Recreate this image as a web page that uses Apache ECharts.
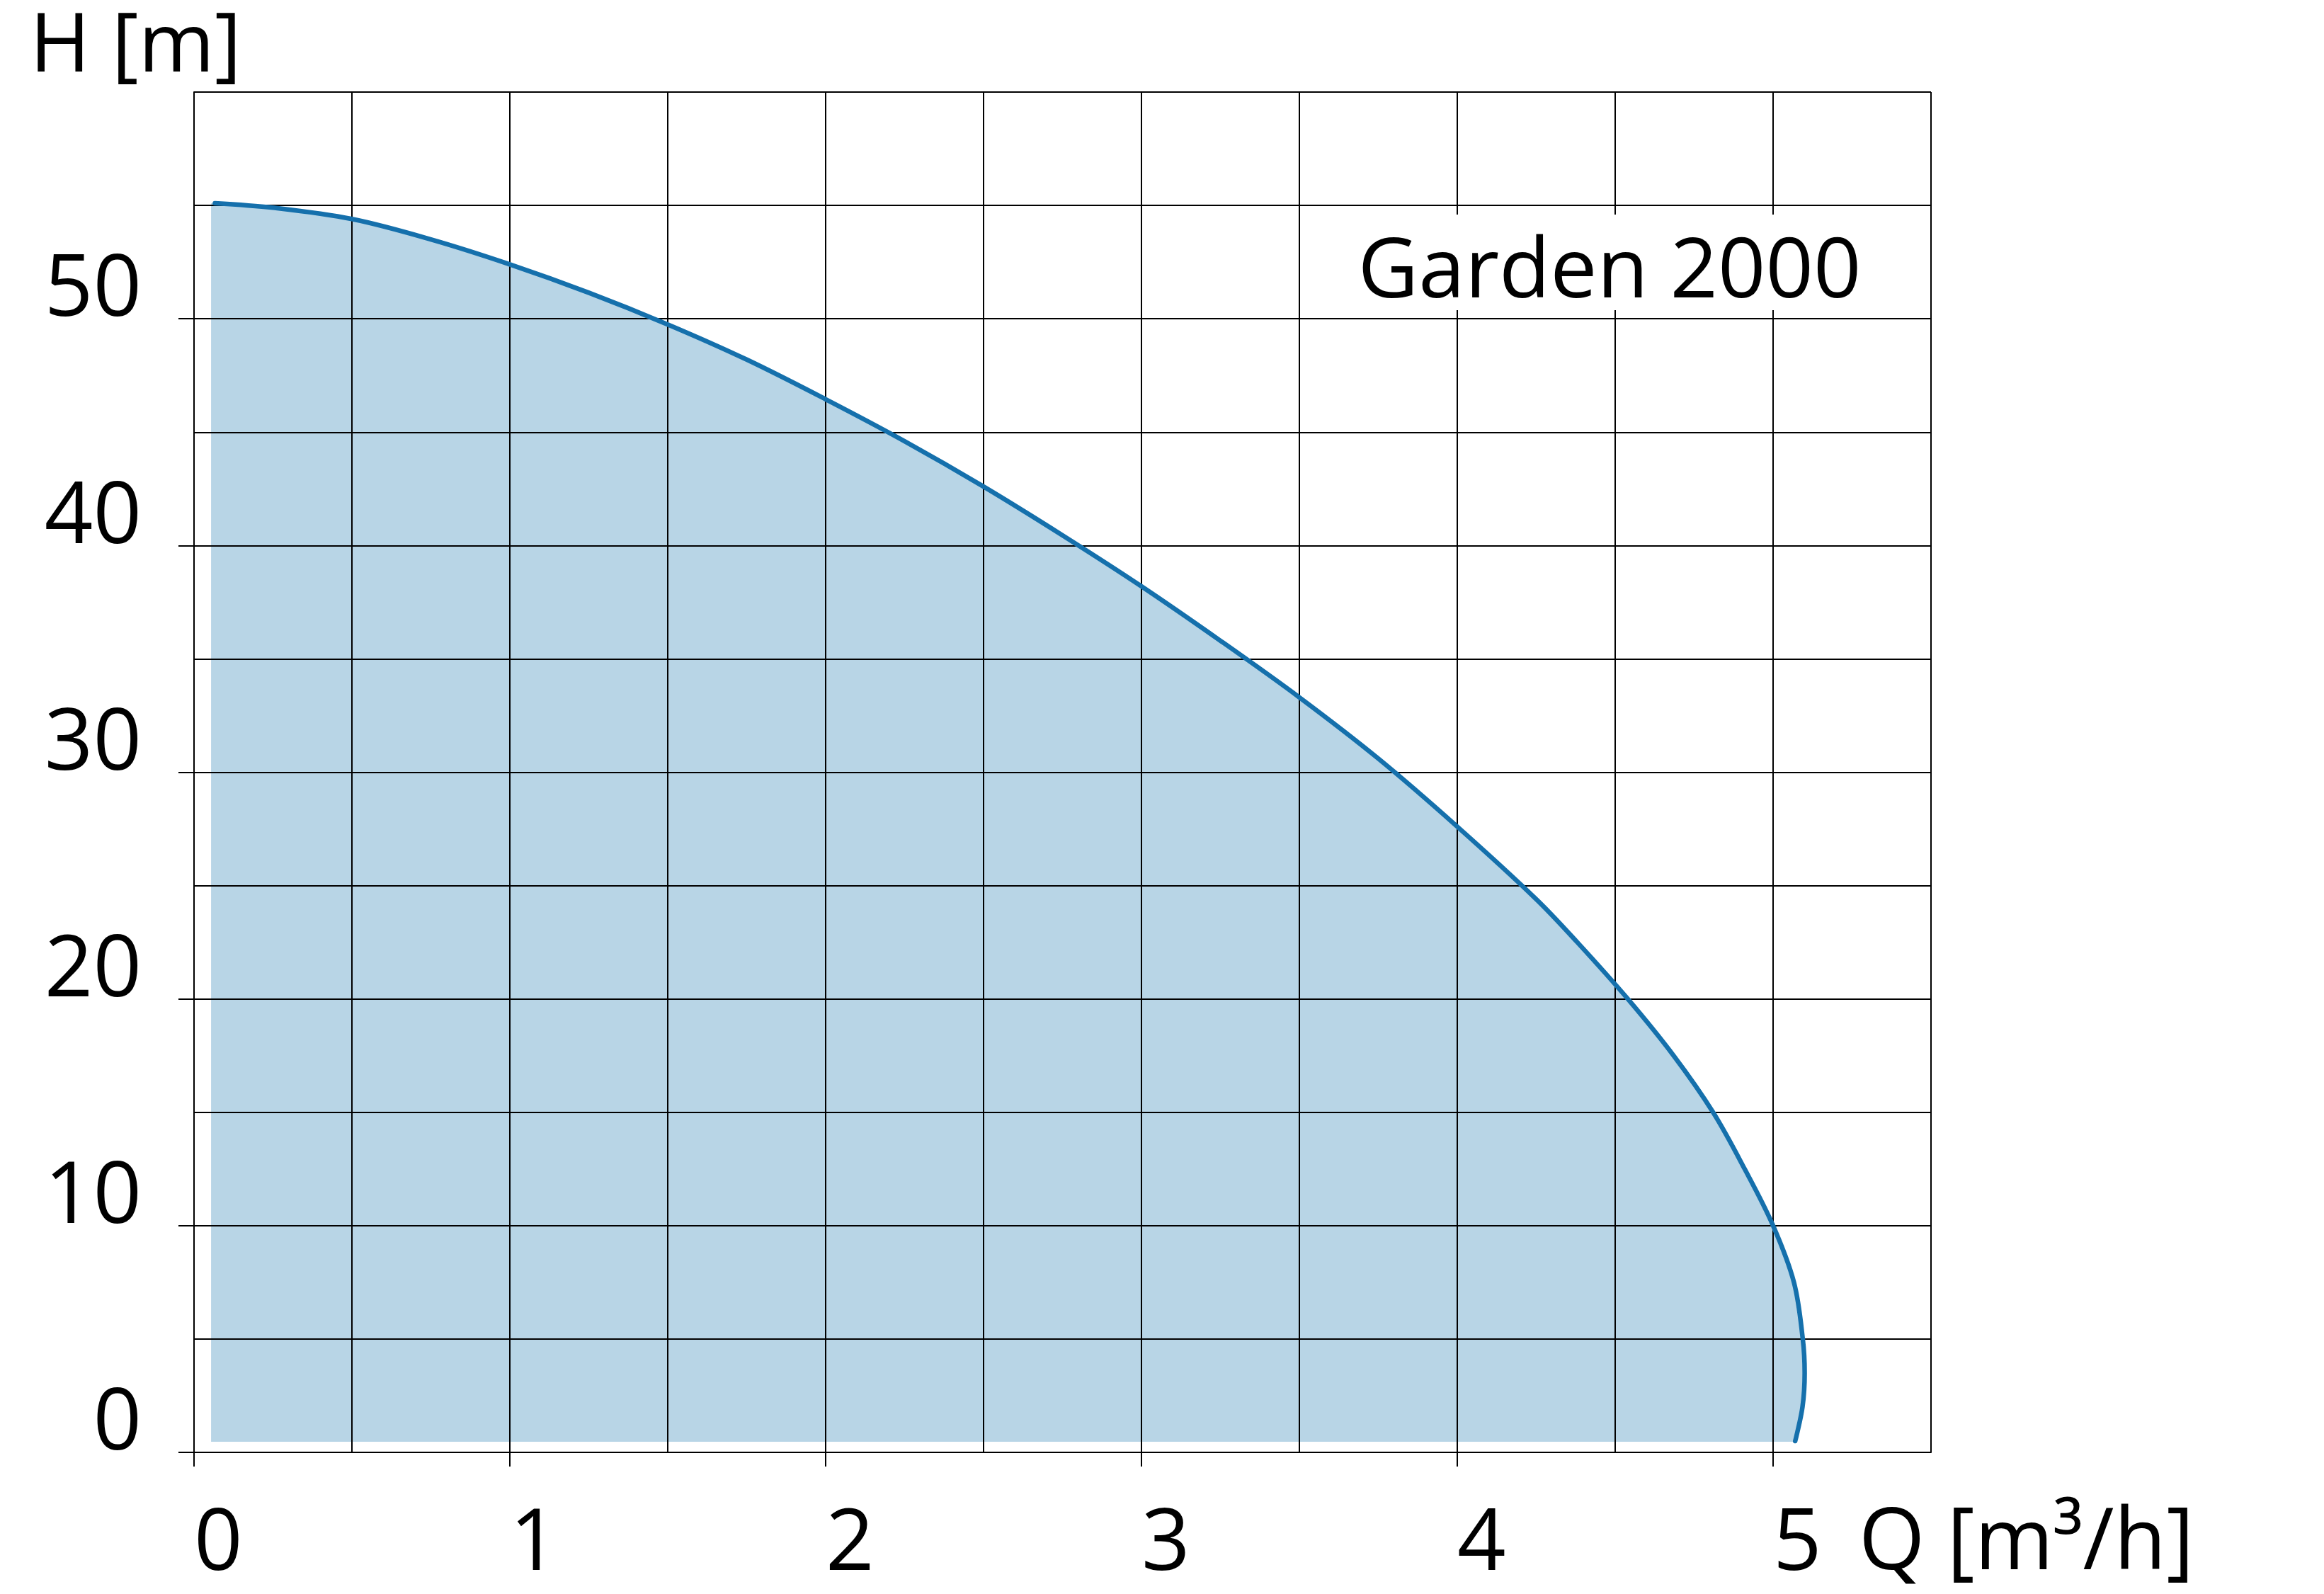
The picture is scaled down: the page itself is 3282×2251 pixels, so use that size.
<!DOCTYPE html>
<html>
<head>
<meta charset="utf-8">
<script src="https://cdn.jsdelivr.net/npm/echarts@6/dist/echarts.min.js"></script>
<style>
html,body{margin:0;padding:0;background:#fff;}
#chart{width:3282px;height:2251px;}
</style>
</head>
<body>
<div id="chart"></div>
<script>
// Pump curve Garden 2000: flow Q [m³/h] vs head H [m]
const curveQ = [0.066, 0.25, 0.5, 0.75, 1.0, 1.25, 1.5, 1.75, 2.0, 2.25, 2.5, 2.75, 3.0, 3.25, 3.5, 3.75, 4.0, 4.25, 4.38, 4.54, 4.685, 4.81, 4.91, 5.0, 5.066, 5.094, 5.1, 5.093, 5.07];
const curveH = [55.1, 54.9, 54.4, 53.5, 52.4, 51.15, 49.75, 48.2, 46.45, 44.6, 42.6, 40.45, 38.2, 35.8, 33.3, 30.6, 27.6, 24.4, 22.5, 20.0, 17.5, 15.0, 12.5, 10.0, 7.5, 5.0, 3.5, 2.0, 0.5];
// operating-range fill: left edge and floor of the shaded area
const fillLeftQ = 0.054;
const fillFloorH = 0.47;
// axis ranges and tick labels
const qMax = 5.5, qGridStep = 0.5;
const hMax = 60, hGridStep = 5;
const xTickLabels = [0, 1, 2, 3, 4, 5];
const yTickLabels = [0, 10, 20, 30, 40, 50];
const xAxisTitle = 'Q [m³/h]';
const yAxisTitle = 'H [m]';
const modelName = 'Garden 2000';

const FONT = "'Open Sans', 'Noto Sans', sans-serif";
const W = 3282, H = 2251;
const plot = {left: 274, right: 2727, top: 130, bottom: 2051};
const lineData = curveQ.map((q, i) => [q, curveH[i]]);
const fillPoly = [[fillLeftQ, fillFloorH], [fillLeftQ, curveH[0]]]
  .concat(lineData)
  .concat([[curveQ[curveQ.length - 1], fillFloorH]]);

// second grid carrying only the labelled ticks, aligned to the same scale
const xLabMax = xTickLabels[xTickLabels.length - 1];
const yLabMax = yTickLabels[yTickLabels.length - 1];
const g2Right = plot.left + (plot.right - plot.left) * xLabMax / qMax;
const g2Top = plot.bottom - (plot.bottom - plot.top) * yLabMax / hMax;

const chart = echarts.init(document.getElementById('chart'), null, {renderer: 'canvas'});
const gridStyle = {color: '#000', width: 2};
const labelFont = {fontSize: 120, fontFamily: FONT, color: '#000'};
chart.setOption({
  animation: false,
  backgroundColor: '#fff',
  grid: [
    {left: plot.left, right: W - plot.right, top: plot.top, bottom: H - plot.bottom},
    {left: plot.left, right: W - g2Right, top: g2Top, bottom: H - plot.bottom}
  ],
  xAxis: [
    {
      gridIndex: 0, type: 'value', min: 0, max: qMax, interval: qGridStep, z: 3,
      axisLine: {show: true, onZero: false, lineStyle: gridStyle},
      axisTick: {show: false},
      splitLine: {show: true, lineStyle: gridStyle},
      axisLabel: {show: false}
    },
    {
      gridIndex: 1, type: 'value', min: 0, max: xLabMax, interval: xTickLabels[1] - xTickLabels[0], z: 3,
      axisLine: {show: false, onZero: false},
      axisTick: {show: true, length: 20, lineStyle: gridStyle},
      splitLine: {show: false},
      axisLabel: Object.assign({align: 'left', margin: 72}, labelFont)
    }
  ],
  yAxis: [
    {
      gridIndex: 0, type: 'value', min: 0, max: hMax, interval: hGridStep, z: 3,
      axisLine: {show: true, onZero: false, lineStyle: gridStyle},
      axisTick: {show: false},
      splitLine: {show: true, lineStyle: gridStyle},
      axisLabel: {show: false}
    },
    {
      gridIndex: 1, type: 'value', min: 0, max: yLabMax, interval: yTickLabels[1] - yTickLabels[0], z: 3,
      axisLine: {show: false, onZero: false},
      axisTick: {show: true, length: 22, lineStyle: gridStyle},
      splitLine: {show: false},
      axisLabel: Object.assign({margin: 74, verticalAlign: 'bottom', lineHeight: 76}, labelFont)
    }
  ],
  graphic: [
    {type: 'rect', z: 20, shape: {x: 1848, y: 303, width: 872, height: 135}, style: {fill: '#fff'}},
    {type: 'text', z: 21, style: {x: 2273, y: 386, text: modelName, textAlign: 'center', textVerticalAlign: 'middle', font: "118px " + FONT, fill: '#000'}},
    {type: 'text', z: 21, style: {x: 42, y: 68, text: yAxisTitle, textAlign: 'left', textVerticalAlign: 'middle', font: "116px " + FONT, fill: '#000'}},
    {type: 'text', z: 21, style: {x: 2625, y: 2182, text: xAxisTitle, textAlign: 'left', textVerticalAlign: 'middle', font: "120px " + FONT, fill: '#000'}}
  ],
  series: [
    {
      type: 'custom', z: 1, silent: true, xAxisIndex: 0, yAxisIndex: 0,
      data: [[fillLeftQ, fillFloorH]],
      renderItem: function (params, api) {
        const pts = fillPoly.map(p => api.coord(p));
        return {type: 'polygon', shape: {points: pts, smooth: 0}, style: {fill: '#B8D5E6'}};
      }
    },
    {
      type: 'line', z: 5, xAxisIndex: 0, yAxisIndex: 0, data: lineData, smooth: 0.35,
      showSymbol: false, symbol: 'none',
      lineStyle: {color: '#1570AC', width: 6.5, cap: 'round', join: 'round'}
    }
  ]
});
</script>
</body>
</html>
